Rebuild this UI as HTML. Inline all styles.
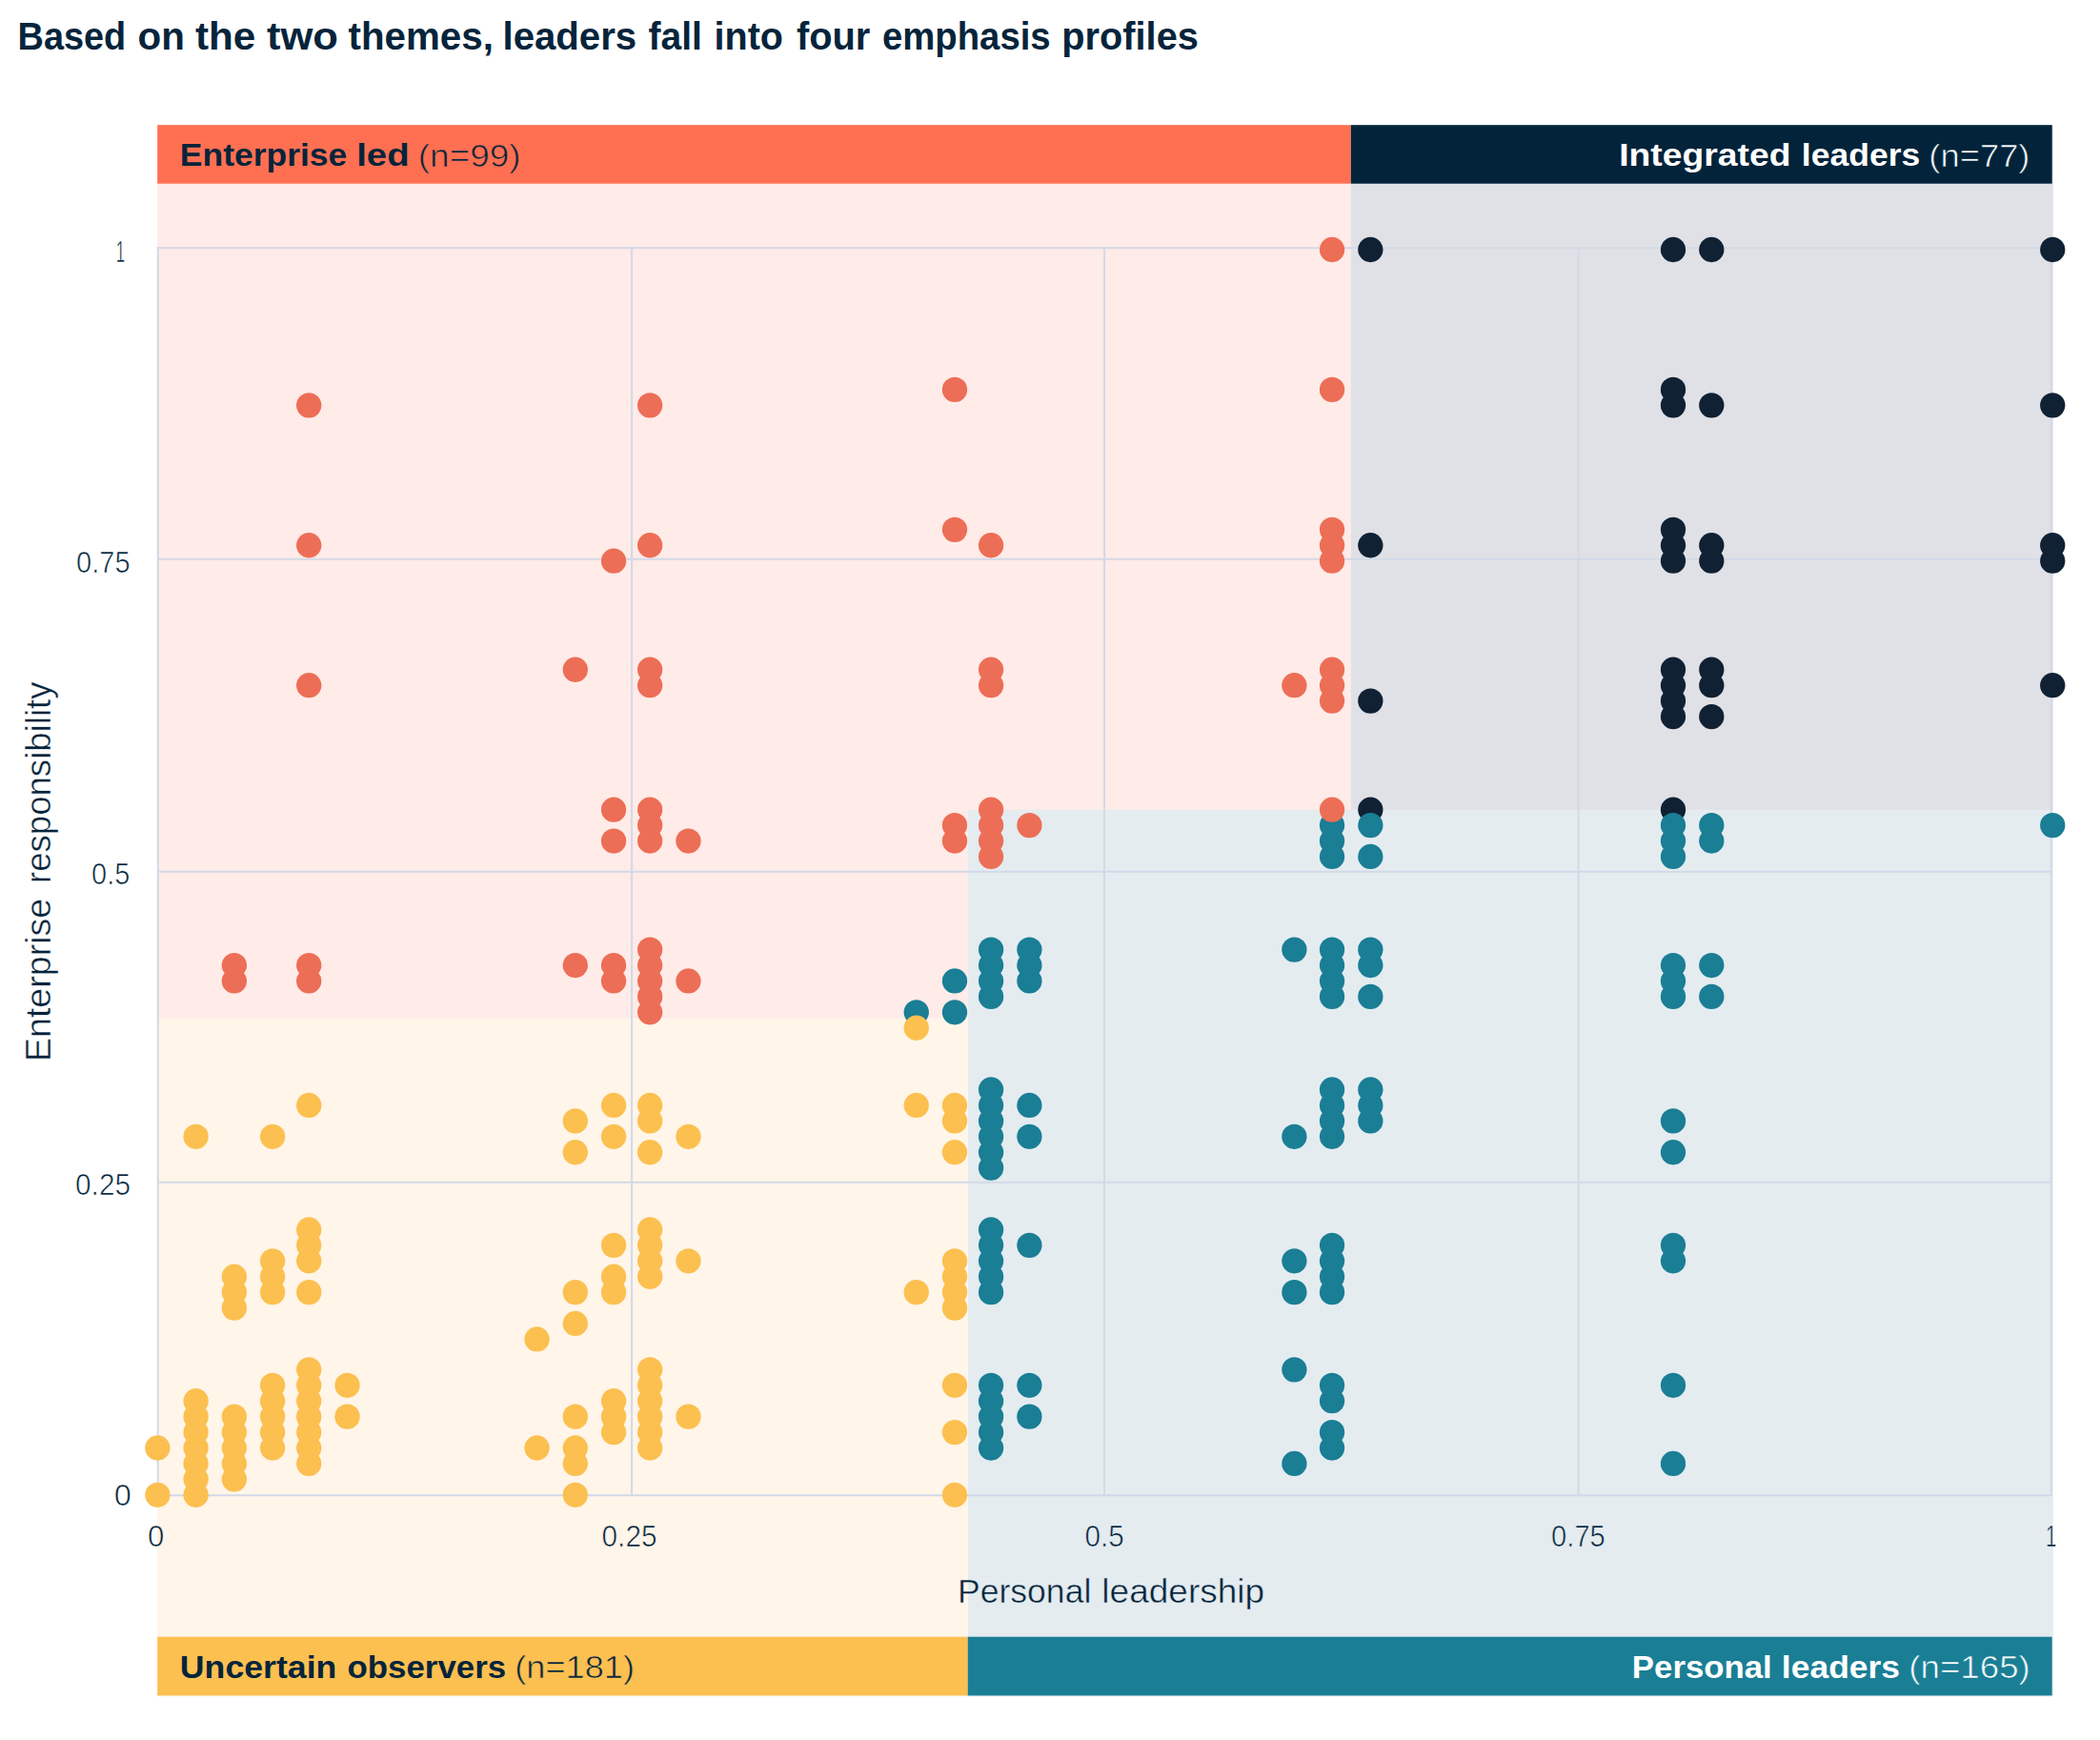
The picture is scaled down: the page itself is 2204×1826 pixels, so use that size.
<!DOCTYPE html>
<html lang="en"><head><meta charset="utf-8"><title>Leaders emphasis profiles</title>
<style>html,body{margin:0;padding:0;background:#fff}svg{display:block}text{font-family:"Liberation Sans",sans-serif;fill:#06243B}.b{font-weight:700}.w{fill:#fff}.t{stroke:url(#bg);stroke-width:.7px}.u{stroke:url(#bg);stroke-width:.5px}</style></head><body>
<svg width="2204" height="1826" viewBox="0 0 2204 1826">
<defs><pattern id="bg" patternUnits="userSpaceOnUse" x="0" y="0" width="2204" height="1826">
<rect width="2204" height="1826" fill="#fff"/>
<path d="M165.2 131.2H1417.8V849.9H1015.7V1068.8H165.2Z" fill="#FFEBE8"/>
<rect x="1417.8" y="131.2" width="737.0000000000002" height="718.7" fill="#E0E1E6"/>
<rect x="1015.7" y="849.9" width="1139.1000000000001" height="930.4" fill="#E4ECF0"/>
<rect x="165.2" y="1068.8" width="850.5" height="711.5" fill="#FFF5E9"/>
<rect x="165.2" y="131.2" width="1252.6" height="61.5" fill="#FF7052"/>
<rect x="1417.8" y="131.2" width="735.8999999999999" height="61.5" fill="#02233A"/>
<rect x="165.2" y="1717.7" width="850.5" height="61.7" fill="#FCC050"/>
<rect x="1015.7" y="1717.7" width="1137.9999999999998" height="61.7" fill="#1A7E95"/>
</pattern></defs>
<rect width="2204" height="1826" fill="url(#bg)"/>
<g stroke="#D2D9E7" stroke-width="2" fill="none">
<line x1="165.70" y1="259" x2="165.70" y2="1570"/>
<line x1="663.10" y1="259" x2="663.10" y2="1570"/>
<line x1="1159.00" y1="259" x2="1159.00" y2="1570"/>
<line x1="1656.60" y1="259" x2="1656.60" y2="1570"/>
<line x1="2152.80" y1="259" x2="2152.80" y2="1570"/>
<line x1="165" y1="1569.20" x2="2154" y2="1569.20"/>
<line x1="165" y1="1240.80" x2="2154" y2="1240.80"/>
<line x1="165" y1="914.80" x2="2154" y2="914.80"/>
<line x1="165" y1="586.80" x2="2154" y2="586.80"/>
<line x1="165" y1="260.30" x2="2154" y2="260.30"/>
</g>
<g fill="#102134">
<circle cx="1438.35" cy="849.68" r="13.15"/>
<circle cx="1438.35" cy="735.62" r="13.15"/>
<circle cx="1438.35" cy="572.27" r="13.15"/>
<circle cx="1438.35" cy="262.0" r="13.15"/>
<circle cx="1756.0" cy="849.68" r="13.15"/>
<circle cx="1756.0" cy="752.05" r="13.15"/>
<circle cx="1756.0" cy="735.62" r="13.15"/>
<circle cx="1756.0" cy="719.19" r="13.15"/>
<circle cx="1756.0" cy="702.76" r="13.15"/>
<circle cx="1756.0" cy="588.7" r="13.15"/>
<circle cx="1756.0" cy="572.27" r="13.15"/>
<circle cx="1756.0" cy="555.84" r="13.15"/>
<circle cx="1756.0" cy="425.35" r="13.15"/>
<circle cx="1756.0" cy="408.92" r="13.15"/>
<circle cx="1756.0" cy="262.0" r="13.15"/>
<circle cx="1796.3" cy="752.05" r="13.15"/>
<circle cx="1796.3" cy="719.19" r="13.15"/>
<circle cx="1796.3" cy="702.76" r="13.15"/>
<circle cx="1796.3" cy="588.7" r="13.15"/>
<circle cx="1796.3" cy="572.27" r="13.15"/>
<circle cx="1796.3" cy="425.35" r="13.15"/>
<circle cx="1796.3" cy="262.0" r="13.15"/>
<circle cx="2154.25" cy="719.19" r="13.15"/>
<circle cx="2154.25" cy="588.7" r="13.15"/>
<circle cx="2154.25" cy="572.27" r="13.15"/>
<circle cx="2154.25" cy="425.35" r="13.15"/>
<circle cx="2154.25" cy="262.0" r="13.15"/>
</g>
<g fill="#1A7E95">
<circle cx="961.75" cy="1062.32" r="13.15"/>
<circle cx="1002.0" cy="1062.32" r="13.15"/>
<circle cx="1002.0" cy="1029.46" r="13.15"/>
<circle cx="1040.1" cy="1519.51" r="13.15"/>
<circle cx="1040.1" cy="1503.08" r="13.15"/>
<circle cx="1040.1" cy="1486.65" r="13.15"/>
<circle cx="1040.1" cy="1470.22" r="13.15"/>
<circle cx="1040.1" cy="1453.79" r="13.15"/>
<circle cx="1040.1" cy="1356.16" r="13.15"/>
<circle cx="1040.1" cy="1339.73" r="13.15"/>
<circle cx="1040.1" cy="1323.3" r="13.15"/>
<circle cx="1040.1" cy="1306.87" r="13.15"/>
<circle cx="1040.1" cy="1290.44" r="13.15"/>
<circle cx="1040.1" cy="1225.67" r="13.15"/>
<circle cx="1040.1" cy="1209.24" r="13.15"/>
<circle cx="1040.1" cy="1192.81" r="13.15"/>
<circle cx="1040.1" cy="1176.38" r="13.15"/>
<circle cx="1040.1" cy="1159.95" r="13.15"/>
<circle cx="1040.1" cy="1143.52" r="13.15"/>
<circle cx="1040.1" cy="1045.89" r="13.15"/>
<circle cx="1040.1" cy="1029.46" r="13.15"/>
<circle cx="1040.1" cy="1013.03" r="13.15"/>
<circle cx="1040.1" cy="996.6" r="13.15"/>
<circle cx="1080.4" cy="1486.65" r="13.15"/>
<circle cx="1080.4" cy="1453.79" r="13.15"/>
<circle cx="1080.4" cy="1306.87" r="13.15"/>
<circle cx="1080.4" cy="1192.81" r="13.15"/>
<circle cx="1080.4" cy="1159.95" r="13.15"/>
<circle cx="1080.4" cy="1029.46" r="13.15"/>
<circle cx="1080.4" cy="1013.03" r="13.15"/>
<circle cx="1080.4" cy="996.6" r="13.15"/>
<circle cx="1358.4" cy="1535.94" r="13.15"/>
<circle cx="1358.4" cy="1437.36" r="13.15"/>
<circle cx="1358.4" cy="1356.16" r="13.15"/>
<circle cx="1358.4" cy="1323.3" r="13.15"/>
<circle cx="1358.4" cy="1192.81" r="13.15"/>
<circle cx="1358.4" cy="996.6" r="13.15"/>
<circle cx="1398.05" cy="1519.51" r="13.15"/>
<circle cx="1398.05" cy="1503.08" r="13.15"/>
<circle cx="1398.05" cy="1470.22" r="13.15"/>
<circle cx="1398.05" cy="1453.79" r="13.15"/>
<circle cx="1398.05" cy="1356.16" r="13.15"/>
<circle cx="1398.05" cy="1339.73" r="13.15"/>
<circle cx="1398.05" cy="1323.3" r="13.15"/>
<circle cx="1398.05" cy="1306.87" r="13.15"/>
<circle cx="1398.05" cy="1192.81" r="13.15"/>
<circle cx="1398.05" cy="1176.38" r="13.15"/>
<circle cx="1398.05" cy="1159.95" r="13.15"/>
<circle cx="1398.05" cy="1143.52" r="13.15"/>
<circle cx="1398.05" cy="1045.89" r="13.15"/>
<circle cx="1398.05" cy="1029.46" r="13.15"/>
<circle cx="1398.05" cy="1013.03" r="13.15"/>
<circle cx="1398.05" cy="996.6" r="13.15"/>
<circle cx="1398.05" cy="898.97" r="13.15"/>
<circle cx="1398.05" cy="882.54" r="13.15"/>
<circle cx="1398.05" cy="866.11" r="13.15"/>
<circle cx="1438.35" cy="1176.38" r="13.15"/>
<circle cx="1438.35" cy="1159.95" r="13.15"/>
<circle cx="1438.35" cy="1143.52" r="13.15"/>
<circle cx="1438.35" cy="1045.89" r="13.15"/>
<circle cx="1438.35" cy="1013.03" r="13.15"/>
<circle cx="1438.35" cy="996.6" r="13.15"/>
<circle cx="1438.35" cy="898.97" r="13.15"/>
<circle cx="1438.35" cy="866.11" r="13.15"/>
<circle cx="1756.0" cy="1535.94" r="13.15"/>
<circle cx="1756.0" cy="1453.79" r="13.15"/>
<circle cx="1756.0" cy="1323.3" r="13.15"/>
<circle cx="1756.0" cy="1306.87" r="13.15"/>
<circle cx="1756.0" cy="1209.24" r="13.15"/>
<circle cx="1756.0" cy="1176.38" r="13.15"/>
<circle cx="1756.0" cy="1045.89" r="13.15"/>
<circle cx="1756.0" cy="1029.46" r="13.15"/>
<circle cx="1756.0" cy="1013.03" r="13.15"/>
<circle cx="1756.0" cy="898.97" r="13.15"/>
<circle cx="1756.0" cy="882.54" r="13.15"/>
<circle cx="1756.0" cy="866.11" r="13.15"/>
<circle cx="1796.3" cy="1045.89" r="13.15"/>
<circle cx="1796.3" cy="1013.03" r="13.15"/>
<circle cx="1796.3" cy="882.54" r="13.15"/>
<circle cx="1796.3" cy="866.11" r="13.15"/>
<circle cx="2154.25" cy="866.11" r="13.15"/>
</g>
<g fill="#ED6E56">
<circle cx="245.85" cy="1029.46" r="13.15"/>
<circle cx="245.85" cy="1013.03" r="13.15"/>
<circle cx="324.2" cy="1029.46" r="13.15"/>
<circle cx="324.2" cy="1013.03" r="13.15"/>
<circle cx="324.2" cy="719.19" r="13.15"/>
<circle cx="324.2" cy="572.27" r="13.15"/>
<circle cx="324.2" cy="425.35" r="13.15"/>
<circle cx="603.8" cy="1013.03" r="13.15"/>
<circle cx="603.8" cy="702.76" r="13.15"/>
<circle cx="644.05" cy="1029.46" r="13.15"/>
<circle cx="644.05" cy="1013.03" r="13.15"/>
<circle cx="644.05" cy="882.54" r="13.15"/>
<circle cx="644.05" cy="849.68" r="13.15"/>
<circle cx="644.05" cy="588.7" r="13.15"/>
<circle cx="682.15" cy="1062.32" r="13.15"/>
<circle cx="682.15" cy="1045.89" r="13.15"/>
<circle cx="682.15" cy="1029.46" r="13.15"/>
<circle cx="682.15" cy="1013.03" r="13.15"/>
<circle cx="682.15" cy="996.6" r="13.15"/>
<circle cx="682.15" cy="882.54" r="13.15"/>
<circle cx="682.15" cy="866.11" r="13.15"/>
<circle cx="682.15" cy="849.68" r="13.15"/>
<circle cx="682.15" cy="719.19" r="13.15"/>
<circle cx="682.15" cy="702.76" r="13.15"/>
<circle cx="682.15" cy="572.27" r="13.15"/>
<circle cx="682.15" cy="425.35" r="13.15"/>
<circle cx="722.45" cy="1029.46" r="13.15"/>
<circle cx="722.45" cy="882.54" r="13.15"/>
<circle cx="1002.0" cy="882.54" r="13.15"/>
<circle cx="1002.0" cy="866.11" r="13.15"/>
<circle cx="1002.0" cy="555.84" r="13.15"/>
<circle cx="1002.0" cy="408.92" r="13.15"/>
<circle cx="1040.1" cy="898.97" r="13.15"/>
<circle cx="1040.1" cy="882.54" r="13.15"/>
<circle cx="1040.1" cy="866.11" r="13.15"/>
<circle cx="1040.1" cy="849.68" r="13.15"/>
<circle cx="1040.1" cy="719.19" r="13.15"/>
<circle cx="1040.1" cy="702.76" r="13.15"/>
<circle cx="1040.1" cy="572.27" r="13.15"/>
<circle cx="1080.4" cy="866.11" r="13.15"/>
<circle cx="1358.4" cy="719.19" r="13.15"/>
<circle cx="1398.05" cy="849.68" r="13.15"/>
<circle cx="1398.05" cy="735.62" r="13.15"/>
<circle cx="1398.05" cy="719.19" r="13.15"/>
<circle cx="1398.05" cy="702.76" r="13.15"/>
<circle cx="1398.05" cy="588.7" r="13.15"/>
<circle cx="1398.05" cy="572.27" r="13.15"/>
<circle cx="1398.05" cy="555.84" r="13.15"/>
<circle cx="1398.05" cy="408.92" r="13.15"/>
<circle cx="1398.05" cy="262.0" r="13.15"/>
</g>
<g fill="#FCC050">
<circle cx="165.35" cy="1568.8" r="13.15"/>
<circle cx="165.35" cy="1519.51" r="13.15"/>
<circle cx="205.6" cy="1568.8" r="13.15"/>
<circle cx="205.6" cy="1552.37" r="13.15"/>
<circle cx="205.6" cy="1535.94" r="13.15"/>
<circle cx="205.6" cy="1519.51" r="13.15"/>
<circle cx="205.6" cy="1503.08" r="13.15"/>
<circle cx="205.6" cy="1486.65" r="13.15"/>
<circle cx="205.6" cy="1470.22" r="13.15"/>
<circle cx="205.6" cy="1192.81" r="13.15"/>
<circle cx="245.85" cy="1552.37" r="13.15"/>
<circle cx="245.85" cy="1535.94" r="13.15"/>
<circle cx="245.85" cy="1519.51" r="13.15"/>
<circle cx="245.85" cy="1503.08" r="13.15"/>
<circle cx="245.85" cy="1486.65" r="13.15"/>
<circle cx="245.85" cy="1372.59" r="13.15"/>
<circle cx="245.85" cy="1356.16" r="13.15"/>
<circle cx="245.85" cy="1339.73" r="13.15"/>
<circle cx="286.1" cy="1519.51" r="13.15"/>
<circle cx="286.1" cy="1503.08" r="13.15"/>
<circle cx="286.1" cy="1486.65" r="13.15"/>
<circle cx="286.1" cy="1470.22" r="13.15"/>
<circle cx="286.1" cy="1453.79" r="13.15"/>
<circle cx="286.1" cy="1356.16" r="13.15"/>
<circle cx="286.1" cy="1339.73" r="13.15"/>
<circle cx="286.1" cy="1323.3" r="13.15"/>
<circle cx="286.1" cy="1192.81" r="13.15"/>
<circle cx="324.2" cy="1535.94" r="13.15"/>
<circle cx="324.2" cy="1519.51" r="13.15"/>
<circle cx="324.2" cy="1503.08" r="13.15"/>
<circle cx="324.2" cy="1486.65" r="13.15"/>
<circle cx="324.2" cy="1470.22" r="13.15"/>
<circle cx="324.2" cy="1453.79" r="13.15"/>
<circle cx="324.2" cy="1437.36" r="13.15"/>
<circle cx="324.2" cy="1356.16" r="13.15"/>
<circle cx="324.2" cy="1323.3" r="13.15"/>
<circle cx="324.2" cy="1306.87" r="13.15"/>
<circle cx="324.2" cy="1290.44" r="13.15"/>
<circle cx="324.2" cy="1159.95" r="13.15"/>
<circle cx="364.5" cy="1486.65" r="13.15"/>
<circle cx="364.5" cy="1453.79" r="13.15"/>
<circle cx="563.55" cy="1519.51" r="13.15"/>
<circle cx="563.55" cy="1405.45" r="13.15"/>
<circle cx="603.8" cy="1568.8" r="13.15"/>
<circle cx="603.8" cy="1535.94" r="13.15"/>
<circle cx="603.8" cy="1519.51" r="13.15"/>
<circle cx="603.8" cy="1486.65" r="13.15"/>
<circle cx="603.8" cy="1389.02" r="13.15"/>
<circle cx="603.8" cy="1356.16" r="13.15"/>
<circle cx="603.8" cy="1209.24" r="13.15"/>
<circle cx="603.8" cy="1176.38" r="13.15"/>
<circle cx="644.05" cy="1503.08" r="13.15"/>
<circle cx="644.05" cy="1486.65" r="13.15"/>
<circle cx="644.05" cy="1470.22" r="13.15"/>
<circle cx="644.05" cy="1356.16" r="13.15"/>
<circle cx="644.05" cy="1339.73" r="13.15"/>
<circle cx="644.05" cy="1306.87" r="13.15"/>
<circle cx="644.05" cy="1192.81" r="13.15"/>
<circle cx="644.05" cy="1159.95" r="13.15"/>
<circle cx="682.15" cy="1519.51" r="13.15"/>
<circle cx="682.15" cy="1503.08" r="13.15"/>
<circle cx="682.15" cy="1486.65" r="13.15"/>
<circle cx="682.15" cy="1470.22" r="13.15"/>
<circle cx="682.15" cy="1453.79" r="13.15"/>
<circle cx="682.15" cy="1437.36" r="13.15"/>
<circle cx="682.15" cy="1339.73" r="13.15"/>
<circle cx="682.15" cy="1323.3" r="13.15"/>
<circle cx="682.15" cy="1306.87" r="13.15"/>
<circle cx="682.15" cy="1290.44" r="13.15"/>
<circle cx="682.15" cy="1209.24" r="13.15"/>
<circle cx="682.15" cy="1176.38" r="13.15"/>
<circle cx="682.15" cy="1159.95" r="13.15"/>
<circle cx="722.45" cy="1486.65" r="13.15"/>
<circle cx="722.45" cy="1323.3" r="13.15"/>
<circle cx="722.45" cy="1192.81" r="13.15"/>
<circle cx="961.75" cy="1356.16" r="13.15"/>
<circle cx="961.75" cy="1159.95" r="13.15"/>
<circle cx="961.75" cy="1078.75" r="13.15"/>
<circle cx="1002.0" cy="1568.8" r="13.15"/>
<circle cx="1002.0" cy="1503.08" r="13.15"/>
<circle cx="1002.0" cy="1453.79" r="13.15"/>
<circle cx="1002.0" cy="1372.59" r="13.15"/>
<circle cx="1002.0" cy="1356.16" r="13.15"/>
<circle cx="1002.0" cy="1339.73" r="13.15"/>
<circle cx="1002.0" cy="1323.3" r="13.15"/>
<circle cx="1002.0" cy="1209.24" r="13.15"/>
<circle cx="1002.0" cy="1176.38" r="13.15"/>
<circle cx="1002.0" cy="1159.95" r="13.15"/>
</g>
<text y="52" font-size="40" class="b"><tspan x="18.62" textLength="113.57" lengthAdjust="spacingAndGlyphs">Based</tspan> <tspan x="144.47" textLength="49.34" lengthAdjust="spacingAndGlyphs">on</tspan> <tspan x="204.98" textLength="63.26" lengthAdjust="spacingAndGlyphs">the</tspan> <tspan x="279.96" textLength="75.04" lengthAdjust="spacingAndGlyphs">two</tspan> <tspan x="365.49" textLength="152.40" lengthAdjust="spacingAndGlyphs">themes,</tspan> <tspan x="527.48" textLength="140.74" lengthAdjust="spacingAndGlyphs">leaders</tspan> <tspan x="680.51" textLength="56.33" lengthAdjust="spacingAndGlyphs">fall</tspan> <tspan x="749.53" textLength="72.47" lengthAdjust="spacingAndGlyphs">into</tspan> <tspan x="836.00" textLength="77.36" lengthAdjust="spacingAndGlyphs">four</tspan> <tspan x="926.07" textLength="176.52" lengthAdjust="spacingAndGlyphs">emphasis</tspan> <tspan x="1114.35" textLength="143.50" lengthAdjust="spacingAndGlyphs">profiles</tspan></text>
<text y="174.3" font-size="33" class=""><tspan class="b" x="188.80" textLength="175.56" lengthAdjust="spacingAndGlyphs">Enterprise</tspan> <tspan class="b" x="374.18" textLength="55.46" lengthAdjust="spacingAndGlyphs">led</tspan> <tspan class="t" font-size="34" y="174.60000000000002" x="438.77" textLength="107.90" lengthAdjust="spacingAndGlyphs">(n=99)</tspan></text>
<text y="174.3" font-size="33" class="w"><tspan class="b" x="1699.25" textLength="180.19" lengthAdjust="spacingAndGlyphs">Integrated</tspan> <tspan class="b" x="1890.81" textLength="124.48" lengthAdjust="spacingAndGlyphs">leaders</tspan> <tspan class="t" font-size="34" y="174.60000000000002" x="2024.35" textLength="106.13" lengthAdjust="spacingAndGlyphs">(n=77)</tspan></text>
<text y="1761.1" font-size="33" class=""><tspan class="b" x="188.86" textLength="164.49" lengthAdjust="spacingAndGlyphs">Uncertain</tspan> <tspan class="b" x="364.42" textLength="166.73" lengthAdjust="spacingAndGlyphs">observers</tspan> <tspan class="t" font-size="34" y="1761.3999999999999" x="540.30" textLength="125.67" lengthAdjust="spacingAndGlyphs">(n=181)</tspan></text>
<text y="1761.1" font-size="33" class="w"><tspan class="b" x="1712.85" textLength="146.91" lengthAdjust="spacingAndGlyphs">Personal</tspan> <tspan class="b" x="1869.85" textLength="124.27" lengthAdjust="spacingAndGlyphs">leaders</tspan> <tspan class="t" font-size="34" y="1761.3999999999999" x="2003.28" textLength="127.56" lengthAdjust="spacingAndGlyphs">(n=165)</tspan></text>
<text y="1682.1" font-size="35.2" class="u"><tspan x="1004.97" textLength="140.36" lengthAdjust="spacingAndGlyphs">Personal</tspan> <tspan x="1156.34" textLength="170.80" lengthAdjust="spacingAndGlyphs">leadership</tspan></text>
<text transform="translate(53.3 1111.2) rotate(-90)" font-size="36.7" class="u"><tspan x="-2.88" textLength="171.36" lengthAdjust="spacingAndGlyphs">Enterprise</tspan> <tspan x="184.21" textLength="211.47" lengthAdjust="spacingAndGlyphs">responsibility</tspan></text>
<text class="t" x="121.74" y="274.5" font-size="31.1" textLength="9.36" lengthAdjust="spacingAndGlyphs">1</text>
<text class="t" x="80.12" y="601.2" font-size="31.1" textLength="56.50" lengthAdjust="spacingAndGlyphs">0.75</text>
<text class="t" x="96.11" y="927.7" font-size="31.1" textLength="40.24" lengthAdjust="spacingAndGlyphs">0.5</text>
<text class="t" x="79.06" y="1254.2" font-size="31.1" textLength="58.00" lengthAdjust="spacingAndGlyphs">0.25</text>
<text class="t" x="119.83" y="1580.3" font-size="31.1" textLength="18.12" lengthAdjust="spacingAndGlyphs">0</text>
<text class="t" x="154.98" y="1622.8" font-size="31.1" textLength="17.34" lengthAdjust="spacingAndGlyphs">0</text>
<text class="t" x="631.56" y="1622.8" font-size="31.1" textLength="57.98" lengthAdjust="spacingAndGlyphs">0.25</text>
<text class="t" x="1138.55" y="1622.8" font-size="31.1" textLength="41.30" lengthAdjust="spacingAndGlyphs">0.5</text>
<text class="t" x="1628.08" y="1622.8" font-size="31.1" textLength="56.72" lengthAdjust="spacingAndGlyphs">0.75</text>
<text class="t" x="2147.00" y="1622.8" font-size="31.1" textLength="11.53" lengthAdjust="spacingAndGlyphs">1</text>
</svg></body></html>
